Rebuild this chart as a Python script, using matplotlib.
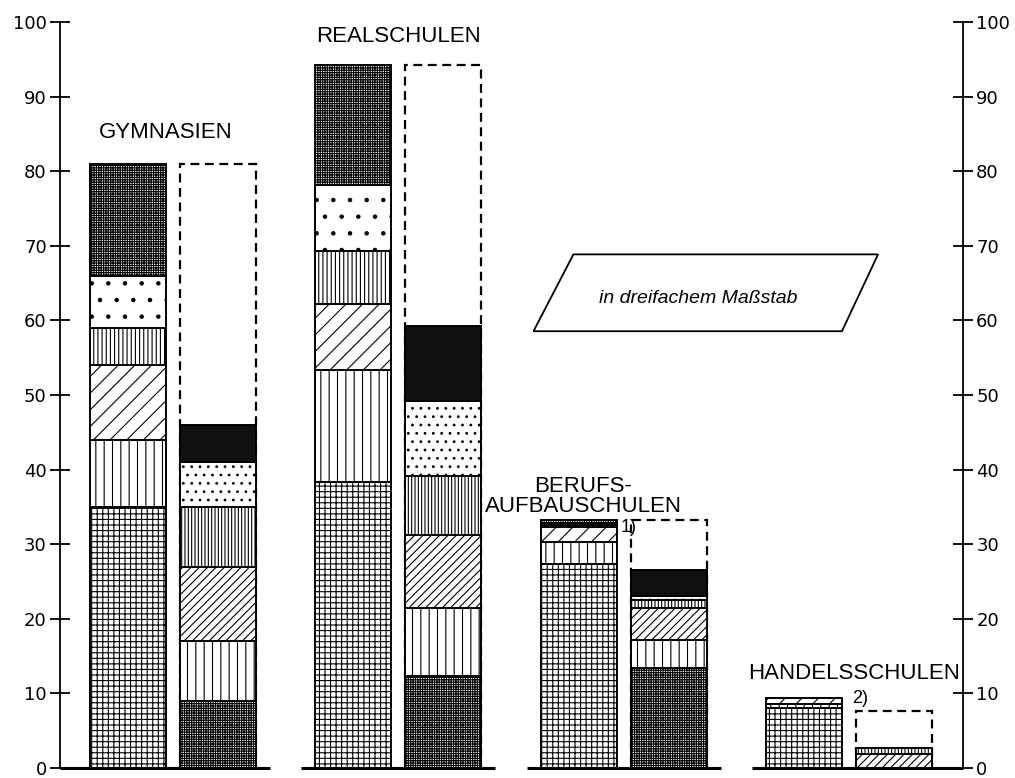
import numpy as np
import matplotlib.pyplot as plt
from matplotlib.patches import Polygon

plt.rcParams['hatch.linewidth'] = 0.8

# school types (group labels)
schools = ['GYMNASIEN', 'REALSCHULEN', 'BERUFS-\nAUFBAUSCHULEN', 'HANDELSSCHULEN']
footnotes = ['', '', '1)', '2)']

# left (solid) bar of each pair, layers from bottom to top
a_grid = [35.0, 38.4, 27.4, 8.0]
a_vert = [9.0, 14.9, 2.9, 0.6]
a_diag = [10.0, 8.9, 2.0, 0.8]
a_vdense = [5.0, 7.1, 0.3, 0.0]
a_dots = [7.0, 8.9, 0.3, 0.0]
a_dark = [15.0, 16.1, 0.3, 0.0]

# right (dashed) bar of each pair, layers from bottom to top
b_dark = [9.0, 12.3, 13.4, 0.0]
b_vert = [8.0, 9.1, 3.8, 0.0]
b_diag = [10.0, 9.8, 4.2, 1.9]
b_vdense = [8.0, 8.0, 1.1, 0.8]
b_dots = [6.0, 10.0, 0.6, 0.0]
b_black = [5.0, 10.0, 3.4, 0.0]
b_total = [81.0, 94.3, 33.2, 7.6]

yticks = list(range(0, 101, 10))

fig = plt.figure(figsize=(10.15, 7.78), dpi=100)
ax = fig.add_axes([0.0591, 0.0129, 0.8897, 0.9588])

x = np.arange(len(schools))
w = 0.337
off = 0.2
xa = x - off
xb = x + off

a_layers = [(a_grid, '+++', 'white'), (a_vert, '||', 'white'),
            (a_diag, '//', 'white'), (a_vdense, '||||', 'white'),
            (a_dots, '.', 'white'), (a_dark, '+++++++', 'white')]
b_layers = [(b_dark, '+++++++', 'white'), (b_vert, '||', 'white'),
            (b_diag, '////', 'white'), (b_vdense, '|||||', 'white'),
            (b_dots, '..', 'white'), (b_black, '', '#101010')]

# dashed outline first, segments drawn over it
ax.bar(xb, b_total, w, fill=False, edgecolor='black', linewidth=1.6,
       linestyle=(0, (4, 2.5)), zorder=2)

bottom = np.zeros(len(schools))
for vals, hatch, fc in a_layers:
    ax.bar(xa, vals, w, bottom=bottom, facecolor=fc, edgecolor='black',
           hatch=hatch, linewidth=1.4, zorder=3)
    bottom += np.array(vals)
a_total = bottom.copy()

bottom = np.zeros(len(schools))
for vals, hatch, fc in b_layers:
    ax.bar(xb, vals, w, bottom=bottom, facecolor=fc, edgecolor='black',
           hatch=hatch, linewidth=1.4, zorder=3)
    bottom += np.array(vals)

xlim = (-0.5, 3.505)
ax.set_xlim(*xlim)
ax.set_ylim(0, 100)

# baseline under each pair of bars
for i, xc in enumerate(x):
    x0 = xlim[0] if i == 0 else xc - 0.43
    x1 = xlim[1] if i == len(x) - 1 else xc + 0.43
    ax.plot([x0, x1], [0, 0], color='black', linewidth=2.2,
            solid_capstyle='butt', clip_on=False, zorder=4)

# group labels
lab_font = dict(family='Liberation Sans', fontsize=16, color='black')
ax.text(x[0] - 0.03, a_total[0] + 4.2, schools[0], ha='center', va='center', **lab_font)
ax.text(x[1] - 0.0, a_total[1] + 3.7, schools[1], ha='center', va='center', **lab_font)
ax.text(x[2] - 0.18, a_total[2] + 3.2, schools[2], ha='center', va='center',
        linespacing=0.95, **lab_font)
ax.text(x[3] + 0.02, a_total[3] + 3.3, schools[3], ha='center', va='center', **lab_font)
ax.text(x[2] + 0.02, a_total[2] - 0.9, footnotes[2], ha='center', va='center',
        family='Liberation Sans', fontsize=13)
ax.text(x[3] + 0.05, a_total[3] - 0.1, footnotes[3], ha='center', va='center',
        family='Liberation Sans', fontsize=13)

# scale note in a slanted box
box = Polygon([[1.60, 58.55], [1.777, 68.85], [3.128, 68.85], [2.968, 58.55]],
              closed=True, fill=False, edgecolor='black', linewidth=1.3, zorder=2)
ax.add_patch(box)
ax.text(2.33, 63.0, 'in dreifachem Maßstab', ha='center', va='center',
        family='Liberation Sans', style='italic', fontsize=14)

for side in ['top', 'bottom']:
    ax.spines[side].set_visible(False)
for side in ['left', 'right']:
    ax.spines[side].set_linewidth(1.3)

ax.set_xticks([])
ax.set_yticks(yticks)
ax.tick_params(axis='y', which='both', direction='inout', length=15, width=1.3,
               left=True, right=True, labelleft=True, labelright=True,
               labelsize=13, pad=2)

fig.savefig('out.png', dpi=100)
